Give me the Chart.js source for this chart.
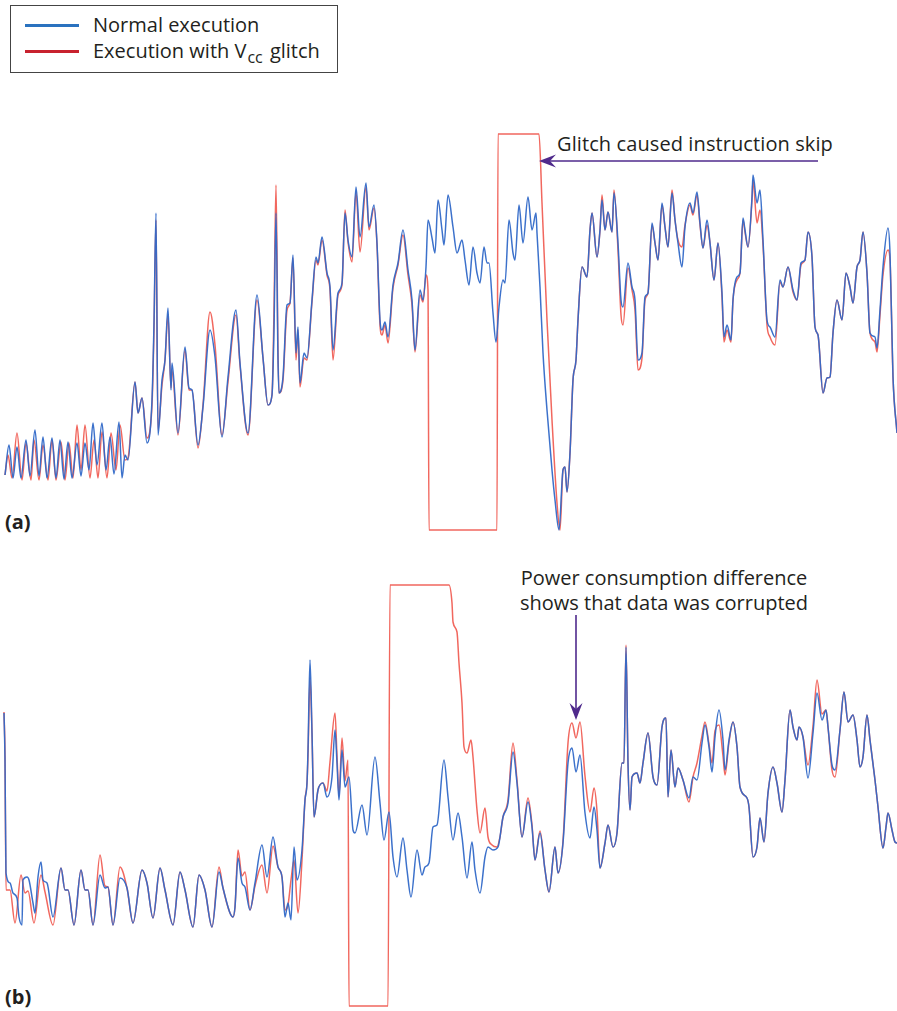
<!DOCTYPE html>
<html>
<head>
<meta charset="utf-8">
<script src="https://cdn.jsdelivr.net/npm/chart.js@4.4.1/dist/chart.umd.min.js"></script>
<style>
  body { margin: 0; background: #fff; width: 897px; height: 1011px; position: relative; overflow: hidden; font-family: "Open Sans", sans-serif; color: #231f20; }
  canvas { position: absolute; left: 0; }
  #chartA { top: 124px; }
  #chartB { top: 575px; }
  .legend { position: absolute; left: 10px; top: 5px; width: 328px; height: 68px; border: 1px solid #444; box-sizing: border-box; }
  .legend .row { position: absolute; left: 14px; height: 24px; font-size: 20px; line-height: 24px; white-space: nowrap; }
  .legend .swatch { display: inline-block; width: 54px; height: 3px; vertical-align: middle; margin-right: 14px; position: relative; top: -1px; }
  .legend sub { font-size: 16px; vertical-align: -5px; line-height: 0; margin-left: 1px; margin-right: 2px; }
  .note { position: absolute; font-size: 20px; line-height: 25px; white-space: nowrap; }
  .tag { position: absolute; left: 5px; font-weight: bold; font-size: 20px; }
</style>
</head>
<body>
<div class="legend">
  <div class="row" style="top:7px"><span class="swatch" style="background:#2a72bf"></span>Normal execution</div>
  <div class="row" style="top:33px"><span class="swatch" style="background:#c8222e"></span>Execution with V<sub>cc</sub> glitch</div>
</div>
<div class="note" style="left:557px; top:131px; letter-spacing:0.1px">Glitch caused instruction skip</div>
<div class="note" style="left:519px; top:565px; width:290px; text-align:center">Power consumption difference<br>shows that data was corrupted</div>
<div class="tag" style="top:508px">(a)</div>
<div class="tag" style="top:983px">(b)</div>
<canvas id="chartA" width="897" height="416"></canvas>
<canvas id="chartB" width="897" height="436"></canvas>
<script>
// sample index, relative power
const normalA = [[5,55],[9,85],[13,52],[17,83],[21,52],[26,90],[30,54],[35,100],[39,54],[43,93],[47,52],[52,92],[56,52],[60,90],[64,51],[68,88],[72,52],[77,87],[81,54],[85,87],[89,60],[93,107],[97,65],[102,107],[106,60],[110,93],[114,56],[119,108],[122,52],[125,75],[128,70],[135,148],[138,117],[142,132],[147,87],[152,130],[154,207],[156,317],[158,95],[162,150],[165,170],[168,222],[171,140],[172,167],[178,97],[185,183],[189,142],[192,140],[198,85],[203,123],[210,200],[215,173],[222,93],[228,153],[236,220],[240,167],[248,97],[257,235],[263,172],[268,125],[272,135],[274,200],[276,317],[278,170],[279,137],[283,153],[287,225],[290,227],[293,275],[296,177],[298,203],[300,147],[304,177],[307,172],[312,230],[316,273],[318,267],[322,293],[327,257],[330,243],[333,180],[338,237],[342,247],[345,317],[348,290],[352,273],[356,343],[360,293],[366,347],[369,303],[374,325],[377,287],[380,210],[382,200],[385,208],[388,193],[393,245],[398,267],[403,300],[408,260],[412,230],[415,180],[420,240],[423,230],[426,263],[428,310],[432,292],[435,277],[438,330],[442,300],[444,285],[448,335],[453,303],[457,277],[462,290],[465,270],[469,245],[473,283],[477,257],[480,247],[484,283],[487,267],[489,267],[493,217],[496,188],[499,223],[503,250],[505,247],[509,310],[513,277],[515,270],[519,325],[523,287],[528,333],[532,300],[536,317],[537,297],[540,243],[543,177],[547,120],[552,60],[555,30],[559,0],[563,60],[565,63],[567,38],[570,77],[573,150],[576,170],[578,210],[582,263],[587,253],[590,300],[592,317],[597,273],[600,300],[602,330],[605,300],[608,318],[612,298],[614,337],[618,287],[621,230],[623,223],[628,267],[632,243],[635,230],[638,170],[642,177],[645,233],[648,237],[652,307],[655,287],[658,270],[662,327],[665,303],[668,283],[672,337],[675,310],[678,287],[682,263],[685,303],[690,327],[693,317],[697,338],[700,307],[703,282],[707,310],[710,287],[714,250],[718,287],[722,237],[724,193],[727,205],[731,190],[733,230],[737,253],[740,257],[743,312],[745,300],[748,283],[752,333],[753,355],[757,327],[760,340],[763,290],[767,210],[770,203],[775,193],[780,250],[783,243],[788,263],[793,240],[797,230],[801,267],[805,270],[808,298],[812,273],[815,203],[818,195],[823,137],[827,152],[830,153],[833,197],[837,230],[842,210],[846,257],[850,243],[853,227],[857,263],[860,270],[863,298],[867,257],[870,197],[875,193],[877,182],[880,220],[883,263],[888,302],[890,277],[893,153],[897,97]];

const glitchA = [[5,55],[8,75],[12,52],[17,97],[22,50],[26,87],[31,50],[34,90],[39,50],[43,85],[48,50],[52,90],[56,50],[61,88],[65,50],[69,87],[73,52],[77,105],[81,60],[85,105],[90,52],[94,90],[98,52],[102,98],[107,52],[111,97],[116,60],[120,105],[125,70],[128,72],[135,148],[138,117],[142,132],[147,92],[152,125],[154,200],[156,310],[158,100],[162,145],[165,170],[168,215],[171,142],[172,160],[178,95],[185,180],[189,140],[192,140],[198,82],[203,125],[210,218],[215,185],[222,95],[228,148],[236,215],[240,165],[248,95],[257,230],[263,172],[268,125],[272,135],[274,220],[276,345],[278,180],[279,137],[283,150],[287,220],[290,227],[293,272],[296,170],[298,200],[300,143],[304,172],[307,170],[312,228],[316,270],[318,265],[322,290],[327,255],[330,240],[333,170],[338,235],[342,245],[345,320],[348,288],[352,268],[356,338],[360,278],[366,343],[369,300],[374,322],[377,285],[380,205],[382,195],[385,205],[388,187],[393,242],[398,265],[403,295],[408,255],[412,225],[415,178],[420,235],[423,228],[426,255],[428,240],[429,0],[497,0],[498,396],[539,396],[542,327],[547,210],[552,110],[557,27],[560,0],[563,60],[565,63],[567,38],[570,77],[573,150],[576,170],[578,210],[582,263],[587,253],[590,300],[592,317],[597,273],[600,300],[602,335],[605,300],[608,318],[612,298],[614,340],[618,280],[621,215],[623,205],[628,262],[632,240],[635,220],[638,160],[642,172],[645,230],[648,237],[652,305],[655,287],[658,270],[662,325],[665,303],[668,283],[672,340],[675,310],[678,290],[682,283],[685,305],[690,325],[693,315],[697,335],[700,305],[703,282],[707,305],[710,287],[714,250],[718,287],[722,233],[724,188],[727,200],[731,188],[733,230],[737,250],[740,257],[743,310],[745,298],[748,283],[752,330],[753,350],[757,307],[760,320],[763,285],[767,205],[770,193],[775,185],[780,248],[783,243],[788,263],[793,238],[797,230],[801,265],[805,270],[808,298],[812,273],[815,203],[818,195],[823,137],[827,152],[830,153],[833,197],[837,230],[842,210],[846,257],[850,243],[853,227],[857,263],[860,270],[863,298],[867,257],[870,197],[875,188],[877,178],[880,215],[883,255],[888,280],[890,270],[893,153],[897,97]];

const normalB = [[4,293],[5,246],[6,133],[10,123],[13,113],[17,108],[19,89],[22,81],[23,126],[27,129],[29,126],[33,103],[35,93],[38,129],[41,144],[43,126],[47,123],[53,89],[61,138],[65,116],[68,116],[74,81],[81,136],[85,116],[88,116],[93,81],[100,131],[105,118],[108,119],[113,81],[120,128],[127,118],[133,83],[142,136],[147,123],[153,88],[160,138],[165,116],[173,81],[180,134],[185,116],[193,79],[199,131],[205,116],[212,79],[219,134],[223,118],[230,93],[233,89],[235,99],[238,148],[242,123],[245,119],[250,96],[255,123],[262,161],[267,129],[273,169],[278,139],[282,129],[285,89],[288,103],[291,86],[294,159],[297,126],[302,156],[305,206],[307,223],[308,256],[310,346],[312,273],[314,189],[318,216],[323,223],[327,209],[332,229],[335,276],[337,243],[339,206],[342,256],[345,219],[349,229],[353,176],[355,173],[362,201],[367,171],[375,249],[380,203],[384,166],[389,194],[393,149],[397,129],[403,168],[407,136],[411,109],[417,156],[422,131],[425,139],[429,143],[433,179],[437,181],[444,246],[448,209],[453,166],[458,193],[462,169],[467,128],[472,164],[475,136],[480,113],[485,149],[488,159],[493,156],[498,159],[503,189],[508,203],[513,254],[517,223],[522,169],[528,204],[532,179],[535,146],[540,173],[545,136],[549,114],[555,159],[558,133],[563,163],[568,243],[572,258],[576,234],[580,251],[585,193],[590,168],[594,199],[597,176],[600,138],[605,163],[608,181],[613,159],[617,173],[622,243],[624,243],[626,359],[628,243],[630,196],[632,229],[637,233],[640,223],[643,243],[648,273],[653,229],[657,221],[662,279],[666,288],[668,209],[671,256],[675,219],[678,238],[683,226],[689,208],[693,229],[697,226],[702,263],[705,281],[709,259],[712,234],[715,269],[719,296],[723,266],[725,236],[729,266],[733,284],[737,259],[740,219],[747,208],[749,199],[753,149],[757,159],[760,188],[764,164],[768,213],[773,239],[777,223],[782,194],[785,226],[790,296],[793,279],[797,266],[799,279],[803,269],[808,228],[813,273],[817,313],[822,286],[826,296],[828,279],[832,241],[835,236],[840,276],[844,314],[848,284],[853,291],[857,266],[860,239],[863,249],[867,291],[870,266],[875,226],[878,199],[883,158],[886,179],[888,193],[892,176],[895,164],[897,163]];

const glitchB = [[4,294],[5,250],[6,116],[10,116],[15,83],[21,131],[25,113],[28,115],[34,83],[41,131],[45,114],[53,81],[61,138],[65,116],[68,116],[74,81],[81,136],[85,116],[88,116],[93,81],[100,151],[105,120],[108,119],[113,81],[120,139],[127,118],[133,83],[142,136],[147,123],[153,88],[160,138],[165,116],[173,81],[180,134],[185,116],[193,79],[199,131],[205,116],[212,79],[219,139],[223,118],[230,93],[233,89],[235,99],[238,156],[242,130],[245,134],[250,96],[255,120],[262,141],[267,113],[273,160],[278,139],[282,129],[285,96],[288,101],[291,126],[294,146],[298,93],[302,146],[305,206],[307,223],[308,250],[310,328],[312,273],[314,189],[318,216],[323,223],[327,215],[330,244],[335,293],[337,250],[339,210],[342,268],[345,225],[348,246],[349,0],[388,0],[390,421],[449,421],[452,403],[453,384],[457,374],[459,343],[462,303],[464,259],[467,253],[471,266],[473,249],[477,196],[480,173],[485,198],[488,169],[492,161],[497,159],[500,169],[503,189],[508,206],[513,263],[517,226],[522,169],[528,208],[532,181],[535,146],[540,175],[545,136],[549,114],[555,159],[558,133],[563,165],[568,263],[572,283],[576,268],[580,284],[585,230],[590,194],[594,218],[597,195],[600,138],[605,163],[608,181],[613,159],[617,173],[622,243],[624,243],[626,361],[628,243],[630,196],[632,229],[637,233],[640,223],[643,243],[648,273],[653,229],[657,221],[662,279],[666,288],[668,209],[671,256],[675,219],[678,238],[683,226],[689,204],[693,229],[697,243],[702,270],[705,284],[709,262],[712,243],[715,275],[719,281],[723,250],[725,231],[729,264],[733,284],[737,259],[740,219],[747,208],[749,199],[753,149],[757,159],[760,188],[764,164],[768,213],[773,239],[777,223],[782,194],[785,226],[790,296],[793,279],[797,266],[799,279],[803,269],[808,241],[813,280],[817,326],[822,292],[826,296],[828,279],[832,236],[835,229],[840,276],[844,314],[848,284],[853,291],[857,266],[860,239],[863,249],[867,291],[870,266],[875,226],[878,199],[883,158],[886,179],[888,193],[892,176],[895,164],[897,163]];

const sampleMax = 897;
const powerMaxA = 396;
const powerMaxB = 421;

// arrow annotations: [fromSample, fromPower, toSample, toPower]
const arrowA = [818, 369, 539, 369];
const arrowB = [576, 391, 576, 286];

const BLUE = 'rgba(50, 105, 200, 0.95)';
const RED = 'rgba(240, 95, 85, 0.95)';
const ARROW = '#4f2a8c';

function arrowPlugin(arrow) {
    return {
        id: 'arrow',
        afterDatasetsDraw(chart) {
            const { ctx, scales } = chart;
            const x1 = scales.x.getPixelForValue(arrow[0]);
            const y1 = scales.y.getPixelForValue(arrow[1]);
            const x2 = scales.x.getPixelForValue(arrow[2]);
            const y2 = scales.y.getPixelForValue(arrow[3]);
            const ang = Math.atan2(y2 - y1, x2 - x1);
            const len = 17, half = 6.5, notch = 11;
            ctx.save();
            ctx.strokeStyle = ARROW;
            ctx.fillStyle = ARROW;
            ctx.lineWidth = 1.6;
            ctx.beginPath();
            ctx.moveTo(x1, y1);
            ctx.lineTo(x2 - Math.cos(ang) * notch, y2 - Math.sin(ang) * notch);
            ctx.stroke();
            // arrow head
            ctx.translate(x2, y2);
            ctx.rotate(ang);
            ctx.beginPath();
            ctx.moveTo(0, 0);
            ctx.lineTo(-len, -half);
            ctx.lineTo(-notch, 0);
            ctx.lineTo(-len, half);
            ctx.closePath();
            ctx.fill();
            ctx.restore();
        }
    };
}

function toPoints(list) {
    return list.map(p => ({ x: p[0], y: p[1] }));
}

function makeChart(id, normal, glitch, powerMax, padding, arrow) {
    return new Chart(document.getElementById(id), {
        type: 'line',
        data: {
            datasets: [
                {
                    label: 'Normal execution',
                    data: toPoints(normal),
                    borderColor: BLUE,
                    borderWidth: 1.5,
                    pointRadius: 0,
                    cubicInterpolationMode: 'monotone',
                    clip: false
                },
                {
                    label: 'Execution with Vcc glitch',
                    data: toPoints(glitch),
                    borderColor: RED,
                    borderWidth: 1.5,
                    pointRadius: 0,
                    cubicInterpolationMode: 'monotone',
                    clip: false
                }
            ]
        },
        options: {
            responsive: false,
            animation: false,
            layout: { padding: padding },
            scales: {
                x: { type: 'linear', min: 0, max: sampleMax, display: false },
                y: { min: 0, max: powerMax, display: false }
            },
            plugins: {
                legend: { display: false },
                tooltip: { enabled: false }
            }
        },
        plugins: [arrowPlugin(arrow)]
    });
}

makeChart('chartA', normalA, glitchA, powerMaxA, { top: 10, bottom: 10, left: 0, right: 0 }, arrowA);
makeChart('chartB', normalB, glitchB, powerMaxB, { top: 10, bottom: 5, left: 0, right: 0 }, arrowB);
</script>
</body>
</html>
